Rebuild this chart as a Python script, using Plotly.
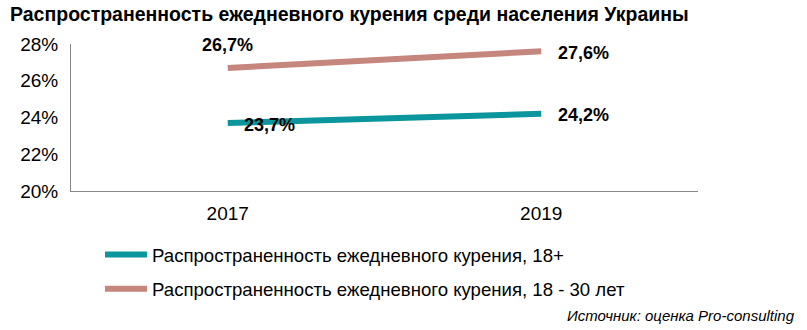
import plotly.graph_objects as go

years = ["2017", "2019"]
adults = [23.7, 24.2]
youth = [26.7, 27.6]
names = ["Распространенность ежедневного курения, 18+",
         "Распространенность ежедневного курения, 18 - 30 лет"]
colors = ["#0A969C", "#C5867E"]
y_ticks = [20, 22, 24, 26, 28]

def fmt(v):
    return f"{v:.1f}".replace(".", ",") + "%"

fig = go.Figure()
for i, (vals, name) in enumerate([(adults, names[0]), (youth, names[1])]):
    fig.add_trace(go.Scatter(
        x=years, y=vals, mode="lines", name=name,
        line=dict(color=colors[i], width=6),
        legendgroup=f"g{i}",
        hoverinfo="skip",
    ))

lab_font = dict(family="Liberation Sans, Arial", size=18, color="#000000", )
# data labels
label_shifts = {
    (0, 0): (42, -2), (0, 1): (42, -1),
    (1, 0): (0, 23), (1, 1): (42, -2),
}
for si, vals in enumerate([adults, youth]):
    for xi, v in enumerate(vals):
        dx, dy = label_shifts[(si, xi)]
        fig.add_annotation(x=xi, y=v, text=f"<b>{fmt(v)}</b>",
                           showarrow=False, xshift=dx, yshift=dy,
                           font=lab_font)

fig.add_annotation(xref="paper", yref="paper", x=1.0 + 99/627, y=-124/147,
                   xanchor="right", yanchor="middle",
                   text="<i>Источник: оценка Pro-consulting</i>",
                   showarrow=False,
                   font=dict(family="Liberation Sans, Arial", size=15, color="#000000"))

fig.update_layout(
    width=807, height=330,
    margin=dict(l=71, r=109, t=44, b=139),
    paper_bgcolor="white", plot_bgcolor="white",
    font=dict(family="Liberation Sans, Arial", size=19, color="#000000"),
    title=dict(text="<b>Распространенность ежедневного курения среди населения Украины</b>",
               x=10/807, xanchor="left", y=1 - 14/330, yanchor="middle",
               font=dict(size=19.5)),
    showlegend=True,
    legend=dict(x=(100 - 71)/627, xanchor="left", y=-(236 - 191)/147, yanchor="top",
                orientation="v", traceorder="grouped", tracegroupgap=7,
                itemwidth=42,
                font=dict(size=18.6), bgcolor="rgba(0,0,0,0)"),
    xaxis=dict(type="category", range=[-0.5, 1.5],
               showgrid=False, showline=True, linecolor="#868686", linewidth=1,
               ticks="", tickfont=dict(size=19), zeroline=False, ticklabelstandoff=5),
    yaxis=dict(range=[20, 28], tickvals=y_ticks, ticktext=[f"{t}%" for t in y_ticks],
               showgrid=False, showline=True, linecolor="#868686", linewidth=1,
               ticks="", tickfont=dict(size=19), zeroline=False, ticklabelstandoff=8),
)

fig.write_html("out.html")
